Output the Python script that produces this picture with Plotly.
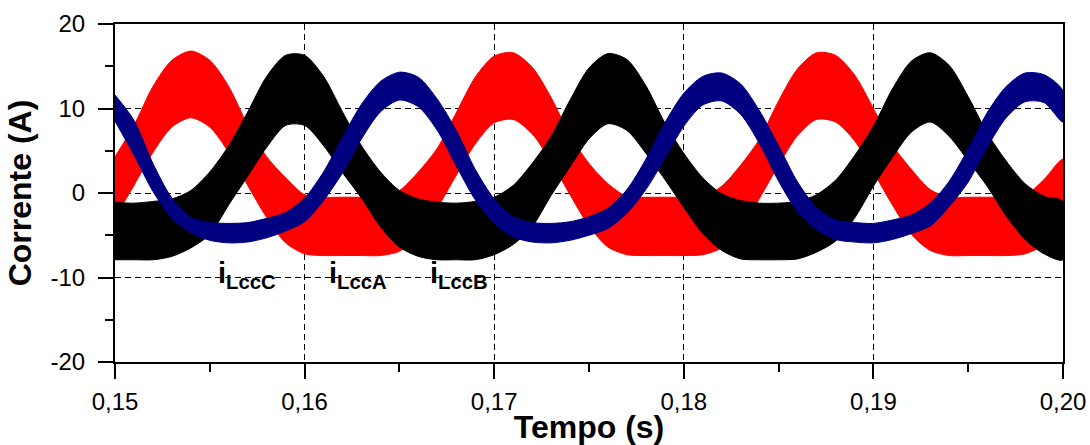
import plotly.graph_objects as go

# ---- data ----
time_s = [0.150, 0.151, 0.152, 0.153, 0.154, 0.155, 0.156, 0.157, 0.158, 0.159,
          0.160, 0.161, 0.162, 0.163, 0.164, 0.165, 0.166, 0.167, 0.168, 0.169,
          0.170, 0.171, 0.172, 0.173, 0.174, 0.175, 0.176, 0.177, 0.178, 0.179,
          0.180, 0.181, 0.182, 0.183, 0.184, 0.185, 0.186, 0.187, 0.188, 0.189,
          0.190, 0.191, 0.192, 0.193, 0.194, 0.195, 0.196, 0.197, 0.198, 0.199,
          0.200]

# i_LccA (red): upper / lower envelope of the switching-ripple band
iLccA_upper = [4.3, 8.0, 12.6, 15.7, 16.8, 15.7, 12.6, 8.0, 4.3, 1.8,
               -0.2, -0.5, -0.5, -0.5, -0.5, 0.3, 2.5, 5.3, 9.5, 13.7,
               16.2, 16.6, 14.9, 11.3, 6.8, 3.5, 1.1, -0.4, -0.5, -0.5,
               -0.5, -0.4, 0.8, 3.3, 6.4, 10.9, 14.7, 16.6, 16.3, 14.0,
               10.0, 5.7, 2.8, 0.4, -0.5, -0.5, -0.5, -0.5, -0.3, 1.6,
               4.0]
iLccA_lower = [-2.9, 0.9, 4.8, 7.8, 8.9, 7.8, 4.8, 0.9, -2.9, -5.9,
               -7.2, -7.4, -7.4, -7.4, -7.4, -6.9, -5.1, -1.8, 2.1, 5.8,
               8.3, 8.7, 7.0, 3.7, -0.2, -3.9, -6.4, -7.3, -7.4, -7.4,
               -7.4, -7.3, -6.5, -4.3, -0.6, 3.3, 6.8, 8.7, 8.4, 6.2,
               2.5, -1.4, -4.9, -6.8, -7.4, -7.4, -7.4, -7.4, -7.2, -6.1,
               -3.2]

# i_LccB (black)
iLccB_upper = [-1.1, -1.2, -1.0, -0.7, 0.3, 2.5, 5.6, 9.6, 13.8, 16.3,
               16.3, 13.8, 9.6, 5.6, 2.5, 0.3, -0.7, -1.1, -1.2, -1.0,
               -0.5, 0.9, 3.5, 6.7, 11.0, 14.8, 16.5, 15.8, 12.7, 8.3,
               4.7, 1.8, -0.1, -0.9, -1.2, -1.2, -1.0, -0.2, 1.5, 4.4,
               7.9, 12.3, 15.6, 16.6, 15.1, 11.4, 7.1, 3.8, 1.1, -0.4,
               -1.0]
iLccB_lower = [-7.9, -7.9, -7.9, -7.5, -6.5, -4.9, -1.4, 2.0, 5.4, 8.0,
               8.0, 5.6, 2.4, -0.6, -4.0, -6.4, -7.5, -7.9, -7.9, -7.9,
               -7.3, -6.1, -4.0, -0.3, 3.1, 6.4, 8.2, 7.4, 4.7, 1.6,
               -1.7, -4.8, -6.8, -7.8, -7.9, -7.9, -7.8, -7.0, -5.7, -3.0,
               0.8, 4.2, 7.2, 8.4, 6.7, 3.8, 0.8, -2.7, -5.5, -7.2,
               -7.9]

# i_LccC (navy)
iLccC_upper = [11.6, 8.6, 3.5, -0.6, -2.9, -3.5, -3.6, -3.5, -3.0, -2.3,
               -0.6, 2.5, 6.6, 10.5, 13.2, 14.3, 13.7, 11.1, 7.4, 2.8,
               -0.7, -2.8, -3.5, -3.6, -3.4, -2.8, -1.8, 0.4, 4.0, 8.3,
               11.8, 13.8, 14.2, 12.9, 9.7, 5.6, 1.3, -1.7, -3.2, -3.5,
               -3.6, -3.2, -2.6, -1.2, 1.4, 5.2, 9.5, 12.6, 14.2, 14.0,
               12.1]
iLccC_lower = [8.5, 4.5, 0.2, -3.0, -4.7, -5.6, -5.9, -5.8, -5.3, -4.5,
               -3.4, -0.9, 2.4, 6.4, 9.6, 11.0, 10.2, 7.4, 3.2, -0.8,
               -3.6, -5.2, -5.8, -5.9, -5.6, -5.0, -4.2, -2.4, 0.4, 4.1,
               7.9, 10.4, 10.9, 9.3, 5.8, 1.4, -2.2, -4.3, -5.5, -5.8,
               -5.9, -5.5, -4.8, -3.9, -1.6, 1.3, 5.4, 8.9, 10.8, 10.7,
               8.4]

series_names = ["iLccA", "iLccB", "iLccC"]
label_texts = ["<b>i<sub>LccC</sub></b>", "<b>i<sub>LccA</sub></b>", "<b>i<sub>LccB</sub></b>"]

x_tick_vals = [0.15, 0.16, 0.17, 0.18, 0.19, 0.20]
x_tick_text = ["0,15", "0,16", "0,17", "0,18", "0,19", "0,20"]
y_tick_vals = [-20, -10, 0, 10, 20]
y_tick_text = ["-20", "-10", "0", "10", "20"]

# ---- figure ----
colors = {"iLccA": "#FF0000", "iLccB": "#000000", "iLccC": "#000080"}
bands = {"iLccA": (iLccA_upper, iLccA_lower),
         "iLccB": (iLccB_upper, iLccB_lower),
         "iLccC": (iLccC_upper, iLccC_lower)}

fig = go.Figure()
for name in series_names:
    up, lo = bands[name]
    col = colors[name]
    fig.add_trace(go.Scatter(
        x=time_s + time_s[::-1],
        y=up + lo[::-1],
        mode="lines",
        fill="toself",
        fillcolor=col,
        line=dict(color=col, width=1, shape="spline", smoothing=0.8),
        name=name,
        hoverinfo="skip",
        showlegend=False,
    ))

font_family = "Liberation Sans, Arial, sans-serif"
grid_dash = "6px,4px"

fig.update_layout(
    width=1090, height=445,
    margin=dict(l=115, r=27, t=24, b=83),
    paper_bgcolor="white", plot_bgcolor="white",
    font=dict(family=font_family, color="black"),
    xaxis=dict(
        range=[0.15, 0.20], automargin=False,
        tickmode="array", tickvals=x_tick_vals, ticktext=x_tick_text,
        ticks="outside", ticklen=15, tickwidth=2, tickcolor="black",
        minor=dict(tickmode="linear", tick0=0.15, dtick=0.005, ticks="outside",
                   ticklen=8, tickwidth=2, tickcolor="black", showgrid=False),
        showline=True, linecolor="black", linewidth=2, mirror=True,
        showgrid=True, gridcolor="black", gridwidth=1, griddash=grid_dash,
        zeroline=False,
        tickfont=dict(size=24, family=font_family, color="black"),
        ticklabelstandoff=2,
        title=dict(text="<b>Tempo (s)</b>", font=dict(size=32, family=font_family),
                   standoff=0),
    ),
    yaxis=dict(
        range=[-20, 20], automargin=False,
        tickmode="array", tickvals=y_tick_vals, ticktext=y_tick_text,
        ticks="outside", ticklen=15, tickwidth=2, tickcolor="black",
        minor=dict(tickmode="linear", tick0=-20, dtick=5, ticks="outside",
                   ticklen=8, tickwidth=2, tickcolor="black", showgrid=False),
        showline=True, linecolor="black", linewidth=2, mirror=True,
        showgrid=True, gridcolor="black", gridwidth=1, griddash=grid_dash,
        zeroline=False,
        tickfont=dict(size=24, family=font_family, color="black"),
        ticklabelstandoff=8,
        title=dict(text="<b>Corrente (A)</b>", font=dict(size=32, family=font_family),
                   standoff=9),
    ),
    xaxis2=dict(
        overlaying="x", side="top", anchor="y", range=[0.15, 0.20], automargin=False,
        tickmode="linear", tick0=0.15, dtick=0.005,
        ticks="inside", ticklen=6, tickwidth=2, tickcolor="black",
        showticklabels=False, showgrid=False, zeroline=False, showline=False,
    ),
    yaxis2=dict(
        overlaying="y", side="right", anchor="x", range=[-20, 20], automargin=False,
        tickmode="linear", tick0=-20, dtick=5,
        ticks="inside", ticklen=6, tickwidth=2, tickcolor="black",
        showticklabels=False, showgrid=False, zeroline=False, showline=False,
    ),
)

label_x = [0.15533, 0.16117, 0.16652]
for txt, lx in zip(label_texts, label_x):
    fig.add_annotation(x=lx, y=-9.7, text=txt, showarrow=False,
                       xanchor="left", yanchor="middle",
                       font=dict(size=29, family=font_family, color="black"))

fig.write_html("out.html", config={"displayModeBar": False},
               post_script="document.body.style.margin='0px';")
